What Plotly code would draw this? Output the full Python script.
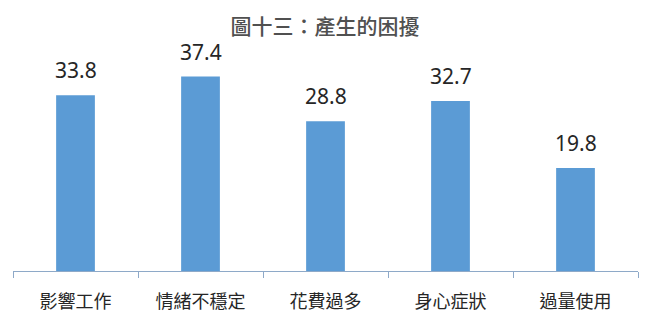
import plotly.graph_objects as go

categories = ["影響工作", "情緒不穩定", "花費過多", "身心症狀", "過量使用"]
values = [33.8, 37.4, 28.8, 32.7, 19.8]
title = "圖十三：產生的困擾"

font = "Noto Sans CJK TC, Microsoft JhengHei, sans-serif"

fig = go.Figure(go.Bar(
    x=categories, y=values,
    marker=dict(color="#5B9BD5", line=dict(width=0)),
    cliponaxis=False,
))

for c, v in zip(categories, values):
    fig.add_annotation(
        x=c, y=v, text=f"{v:.1f}", showarrow=False,
        yanchor="bottom", yshift=9,
        font=dict(family="Noto Sans, sans-serif", size=21, color="#262626"),
    )

fig.update_layout(
    width=650, height=325,
    margin=dict(l=13, r=12, t=63, b=54),
    paper_bgcolor="white", plot_bgcolor="white",
    bargap=0.69,
    showlegend=False,
    title=dict(text=title, x=0.5, xanchor="center", y=0.918, yanchor="middle",
               font=dict(family=font, size=21, color="#505050", weight=500)),
)
fig.update_xaxes(
    showline=True, linecolor="#8EA9C8", linewidth=1.2,
    ticks="outside", tickson="boundaries", ticklen=6, tickcolor="#8EA9C8",
    tickfont=dict(family=font, size=18, color="#262626"),
    ticklabelstandoff=14,
    showgrid=False,
)
fig.update_yaxes(range=[0, 40], visible=False, showgrid=False)

fig.write_html("out.html")
